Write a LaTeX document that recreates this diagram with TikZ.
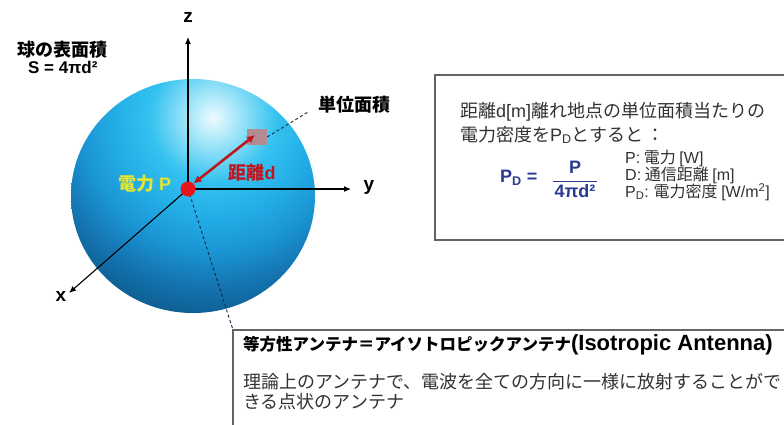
\documentclass[tikz,border=0pt]{standalone}
\usepackage{fontspec}
\setmainfont{Noto Sans CJK JP}
\newfontfamily\arial{Liberation Sans}
\usetikzlibrary{arrows.meta}

\definecolor{globewhite}{RGB}{238,251,255}
\definecolor{globehi}{RGB}{150,226,248}
\definecolor{globecyan}{RGB}{52,194,240}
\definecolor{globemid}{RGB}{34,172,230}
\definecolor{globeblue}{RGB}{26,148,210}
\definecolor{globedark}{RGB}{20,116,176}
\definecolor{globedeep}{RGB}{12,86,136}
\definecolor{srcred}{RGB}{232,20,28}
\definecolor{distred}{RGB}{190,22,30}
\definecolor{powyellow}{RGB}{228,230,50}
\definecolor{areapink}{RGB}{178,140,146}
\definecolor{formblue}{RGB}{43,57,144}
\definecolor{boxgray}{RGB}{100,100,100}
\definecolor{txtgray}{RGB}{50,50,50}
\definecolor{guide}{RGB}{20,40,70}

% centred radial shading; the shaded path's box spans +-25bp
\pgfdeclareradialshading{globe}{\pgfpoint{0bp}{0bp}}{%
  color(0bp)=(globewhite); color(3.5bp)=(globehi); color(7.5bp)=(globecyan);
  color(12bp)=(globemid); color(16bp)=(globeblue); color(20bp)=(globedark);
  color(25bp)=(globedeep); color(50bp)=(globedeep)}

\begin{document}
\begin{tikzpicture}[x=1pt,y=-1pt,
        axis/.style={draw=black,line width=1.1pt,-{Latex[length=7pt,width=6pt]}},
        axislabel/.style={font=\arial\bfseries\fontsize{19}{19}\selectfont},
        guideline/.style={draw=guide,line width=0.9pt,dash pattern=on 3pt off 2.5pt},
        tag/.style={inner sep=0pt,font=\bfseries\fontsize{18}{18}\selectfont},
        boxline/.style={draw=boxgray,line width=1.3pt},
        boxtext/.style={inner sep=0pt,anchor=west,text=txtgray,font=\fontsize{18}{18}\selectfont},
        legend/.style={inner sep=0pt,anchor=west,text=txtgray,font=\fontsize{16}{16}\selectfont},
        formula/.style={inner sep=0pt,text=formblue,font=\arial\bfseries\fontsize{18}{18}\selectfont}]
        \clip (0,0) rectangle (784,424);
        \fill[white] (0,0) rectangle (784,424);

        % sphere, lit from the upper right
        \begin{scope}
            \clip (193,196) ellipse [x radius=122,y radius=117];
            \shade[shading=globe] (213,118) circle [radius=210];
        \end{scope}
        \coordinate (O) at (188,189);
        \coordinate (zt) at (188,37);
        \coordinate (yt) at (351,189);
        \coordinate (xt) at (69,293);
        \draw[axis] (O) -- (zt);
        \draw[axis] (O) -- (yt);
        \draw[axis] (O) -- (xt);
        \node[axislabel] (zl) at (188,17) {z};
        \node[axislabel] (yl) at (369,187) {y};
        \node[axislabel] (xl) at (61,296) {x};

        \node[fill=areapink,minimum width=20pt,minimum height=16pt,inner sep=0pt] (ua) at (257,137) {};
        \coordinate (uad) at (308,112);
        \draw[guideline] (ua.east) -- (uad);
        \node[tag,anchor=west] (ual) at (318,105) {単位面積};

        \coordinate (b2) at (233,330);
        \draw[guideline] (O) -- (b2);

        \node[circle,fill=srcred,minimum size=15pt,inner sep=0pt] (src) at (O) {};
        \draw[distred,line width=2.6pt,{Latex[length=8pt,width=8pt]}-{Latex[length=8pt,width=8pt]}] (src.45) -- ([xshift=-2pt,yshift=2pt]ua.center);
        \node[tag,text=distred] (dl) at (252,173) {距離{\arial d}};
        \node[tag,text=powyellow] (pl) at (145,184) {電力 {\arial P}};

        \node[tag,anchor=west] (sa) at (17,50) {球の表面積};
        \node[tag,anchor=west,font=\arial\bfseries\fontsize{17}{17}\selectfont] (sf) at (28,67) {S = 4πd²};

        % power density box
        \draw[boxline] (435,75) rectangle (800,240);
        \node[boxtext] (l1) at (460,112) {距離{\arial d[m]}離れ地点の単位面積当たりの};
        \node[boxtext] (l2) at (460,135) {電力密度を{\arial P\textsubscript{D}}とすると\,：};
        \node[formula,anchor=west] (pd) at (500,178) {P\textsubscript{D} =};
        \node[formula] (num) at (575,167) {P};
        \node[formula] (den) at (575,191) {4πd²};
        \draw[formblue,line width=1.3pt] ([xshift=-1pt,yshift=2.5pt]den.north west) -- ([xshift=1pt,yshift=2.5pt]den.north east);
        \node[legend] (lp) at (625,158) {{\arial P:} 電力 {\arial [W]}};
        \node[legend] (ld) at (625,175) {{\arial D:} 通信距離 {\arial [m]}};
        \node[legend] (lpd) at (625,192) {{\arial P\textsubscript{D}:} 電力密度 {\arial [W/m\textsuperscript{2}]}};

        % isotropic antenna box
        \draw[boxline] (b2) rectangle (800,440);
        \node[boxtext,text=black,font=\bfseries\fontsize{16.5}{16.5}\selectfont] (t1) at (243,345) {等方性アンテナ＝アイソトロピックアンテナ{\arial\fontsize{22}{22}\selectfont(Isotropic Antenna)}};
        \node[boxtext] (m1) at (243,382) {理論上のアンテナで、電波を全ての方向に一様に放射することがで};
        \node[boxtext] (m2) at (243,402) {きる点状のアンテナ};
\end{tikzpicture}
\end{document}
